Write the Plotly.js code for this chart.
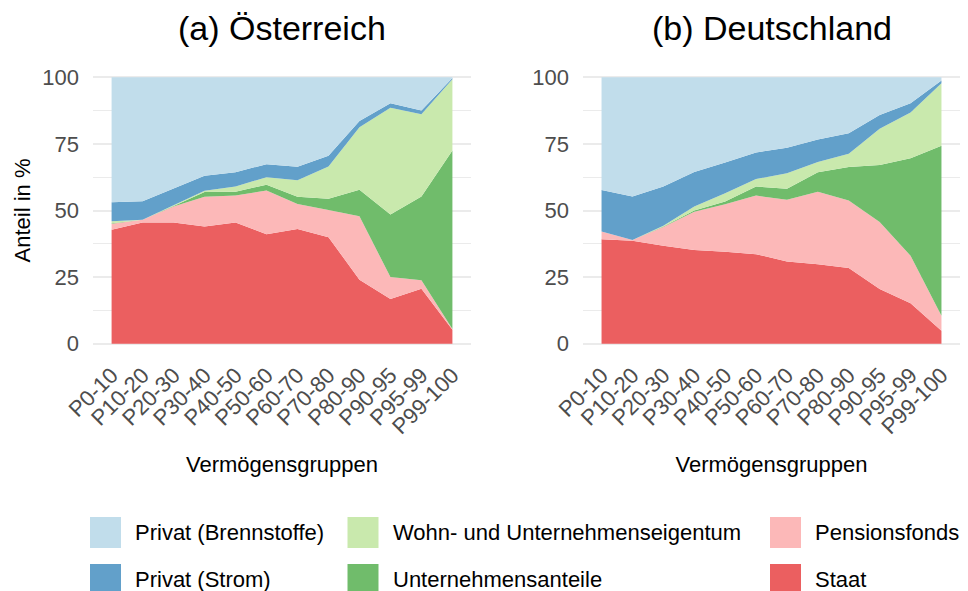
<!DOCTYPE html>
<html><head><meta charset="utf-8">
<script src="https://cdn.plot.ly/plotly-3.0.1.min.js"></script>
<style>html,body{margin:0;padding:0;background:#fff}#chart{width:968px;height:591px}</style>
</head><body><div id="chart"></div>
<script>
// ---- data ----
const groups = ['P0-10','P10-20','P20-30','P30-40','P40-50','P50-60','P60-70','P70-80','P80-90','P90-95','P95-99','P99-100'];
const seriesNames = ['Staat','Pensionsfonds','Unternehmensanteile','Wohn- und Unternehmenseigentum','Privat (Strom)','Privat (Brennstoffe)'];
const seriesColors = ['#EB5F60','#FCB8B8','#70BC6B','#C9E9AD','#62A0CA','#C1DDEB'];
const panelTitles = ['(a) Österreich','(b) Deutschland'];
const yTickVals = [0,25,50,75,100];

// Österreich
const at_staat   = [42.8, 45.5, 45.5, 44.0, 45.5, 41.1, 43.1, 40.0, 24.0, 16.8, 20.6, 5.2];
const at_pension = [2.2, 1.0, 6.0, 11.2, 10.1, 16.4, 9.3, 10.2, 23.8, 8.2, 3.2, 0.3];
const at_untern  = [0.2, 0.0, 0.2, 1.7, 1.4, 2.2, 2.8, 4.2, 10.0, 23.5, 31.5, 67.0];
const at_wohn    = [0.8, 0.0, 0.3, 0.5, 2.0, 2.8, 6.2, 12.1, 23.5, 40.1, 30.8, 26.8];
const at_strom   = [7.1, 7.0, 6.3, 5.6, 5.4, 4.9, 5.0, 4.1, 2.3, 1.7, 1.4, 0.4];
const at_brenn   = [46.9, 46.5, 41.7, 37.0, 35.6, 32.6, 33.6, 29.4, 16.4, 9.7, 12.5, 0.3];

// Deutschland
const de_staat   = [39.2, 38.6, 36.8, 35.2, 34.5, 33.6, 30.9, 29.8, 28.4, 20.5, 15.2, 4.9];
const de_pension = [2.9, 0.3, 7.0, 14.3, 17.8, 22.0, 23.1, 27.2, 25.4, 25.2, 17.8, 5.6];
const de_untern  = [0.0, 0.0, 0.2, 0.5, 1.1, 3.4, 4.2, 7.4, 12.5, 21.4, 36.6, 63.8];
const de_wohn    = [0.0, 0.0, 0.3, 1.5, 3.1, 2.8, 5.8, 3.8, 5.0, 13.6, 17.2, 23.5];
const de_strom   = [15.6, 16.4, 14.7, 13.0, 11.5, 10.0, 9.6, 8.5, 7.7, 5.2, 3.5, 1.0];
const de_brenn   = [42.3, 44.7, 41.0, 35.5, 32.0, 28.2, 26.4, 23.3, 21.0, 14.1, 9.7, 1.2];

const atSeries = [at_staat, at_pension, at_untern, at_wohn, at_strom, at_brenn];
const deSeries = [de_staat, de_pension, de_untern, de_wohn, de_strom, de_brenn];

// ---- layout geometry (pixels) ----
const FW = 968, FH = 591;
const M = {l: 93, r: 8, t: 64, b: 234};
const PW = FW - M.l - M.r, PH = FH - M.t - M.b;
const px2x = px => (px - M.l) / PW;
const px2y = py => (FH - M.b - py) / PH;

const FONT = 'Liberation Sans, Arial, sans-serif';
const GRID = '#EBEBEB';
const TICKC = '#4D4D4D';

const traces = [];
function addPanel(series, stack, xa, ya) {
  series.forEach((vals, i) => {
    traces.push({
      type: 'scatter', mode: 'none', x: groups, y: vals,
      stackgroup: stack, fillcolor: seriesColors[i], name: seriesNames[i],
      xaxis: xa, yaxis: ya, showlegend: false, hoveron: 'points'
    });
  });
}
addPanel(atSeries, 'at', 'x', 'y');
addPanel(deSeries, 'de', 'x2', 'y2');

function xAxis(domain, anchor) {
  return {
    domain: domain, anchor: anchor, type: 'category', categoryorder: 'array', categoryarray: groups,
    range: [-0.6, 11.6], showgrid: false, zeroline: false, showline: false, ticks: '',
    tickangle: -45, tickfont: {family: FONT, size: 22, color: TICKC},
    title: {text: 'Vermögensgruppen', font: {family: FONT, size: 22, color: '#000'}, standoff: 18},
    automargin: true, fixedrange: true
  };
}
function yAxis(domain, anchor, withTitle) {
  return {
    domain: domain, anchor: anchor, range: [-5, 105], tickvals: yTickVals,
    showgrid: true, gridcolor: GRID, gridwidth: 2, zeroline: false, showline: false, ticks: '',
    minor: {dtick: 12.5, tick0: 0, showgrid: true, gridcolor: GRID, gridwidth: 1, ticks: ''},
    tickfont: {family: FONT, size: 22, color: TICKC}, ticklabelstandoff: 13,
    title: {text: withTitle ? 'Anteil in %' : '', font: {family: FONT, size: 22, color: '#000'}, standoff: 5},
    automargin: true, fixedrange: true
  };
}

const annotations = [
  {text: panelTitles[0], x: px2x(282), y: px2y(28)},
  {text: panelTitles[1], x: px2x(771.5), y: px2y(28)}
].map(a => Object.assign(a, {xref: 'paper', yref: 'paper', xanchor: 'center', yanchor: 'middle',
  showarrow: false, font: {family: FONT, size: 34, color: '#000'}}));

// manual legend: 3 columns x 2 rows
const legendOrder = [5, 3, 1, 4, 2, 0];
const colKeyX = [90, 347.5, 770];
const rowTopY = [517, 564];
const KEY = 31;
const shapes = [];
legendOrder.forEach((si, k) => {
  const c = k % 3, r = Math.floor(k / 3);
  shapes.push({type: 'rect', xref: 'paper', yref: 'paper', layer: 'above',
    x0: px2x(colKeyX[c]), x1: px2x(colKeyX[c] + KEY), y0: px2y(rowTopY[r]), y1: px2y(rowTopY[r] + KEY),
    fillcolor: seriesColors[si], line: {width: 0}});
  annotations.push({text: seriesNames[si], xref: 'paper', yref: 'paper',
    x: px2x(colKeyX[c] + 43), y: px2y(rowTopY[r] + KEY / 2), xanchor: 'left', yanchor: 'middle',
    showarrow: false, font: {family: FONT, size: 22, color: '#000'}});
});

const layout = {
  width: FW, height: FH, margin: M, autosize: false,
  paper_bgcolor: '#fff', plot_bgcolor: 'rgba(0,0,0,0)',
  showlegend: false, hovermode: false,
  xaxis: xAxis([0, px2x(471)], 'y'),
  yaxis: yAxis([0, 1], 'x', true),
  xaxis2: xAxis([px2x(583), 1], 'y2'),
  yaxis2: yAxis([0, 1], 'x2', false),
  annotations: annotations, shapes: shapes,
  font: {family: FONT}
};

Plotly.newPlot('chart', traces, layout, {displayModeBar: false, staticPlot: true});
</script>
</body></html>
